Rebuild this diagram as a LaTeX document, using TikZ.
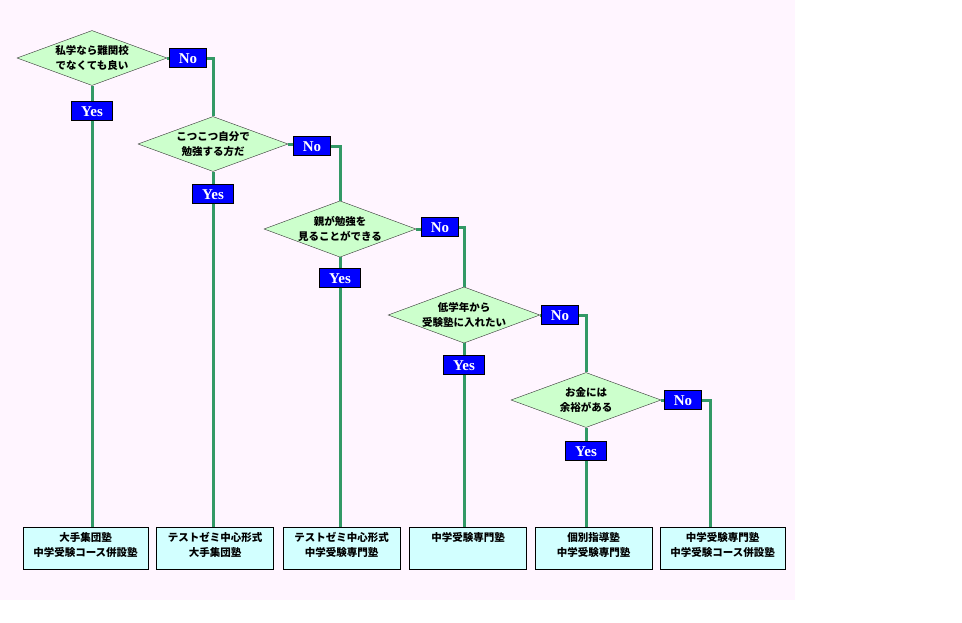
\documentclass[tikz,border=0pt]{standalone}
\usepackage{fontspec}
\newfontfamily\jpfont{Noto Sans CJK JP}
\newfontfamily\ynfont{Liberation Serif}
\usetikzlibrary{shapes.geometric}
\definecolor{bgpink}{RGB}{255,245,255}
\definecolor{qgreen}{RGB}{204,255,204}
\definecolor{scyan}{RGB}{210,255,255}
\definecolor{linegreen}{RGB}{51,153,102}
\definecolor{labelblue}{RGB}{0,0,255}
\tikzset{
  question/.style={shape=diamond, aspect=2.7, minimum width=150pt, minimum height=55pt, inner sep=0pt, draw=black!80, fill=qgreen, font={\jpfont\bfseries\fontsize{10.5}{15}\selectfont}, align=center},
  school/.style={shape=rectangle, draw=black, fill=scyan, font={\jpfont\bfseries\fontsize{10.5}{15}\selectfont}, align=center, minimum width=117pt, inner xsep=10pt, inner ysep=4pt, text height=25pt, text depth=9pt},
  oneline/.style={text height=10pt, text depth=24pt},
  answer/.style={shape=rectangle, draw=black, fill=labelblue, text=white, font={\ynfont\bfseries\fontsize{15}{15}\selectfont}, minimum height=19pt, inner xsep=9.5pt, inner ysep=0pt, text height=10pt, text depth=0pt},
  flow/.style={draw=linegreen, line width=3pt}
}

\begin{document}
\begin{tikzpicture}[x=1pt, y=-1pt]

\useasboundingbox (0,0) rectangle (962,622);
\fill [bgpink] (0,0) rectangle (795,600);

\node [question] (q1) at (92,58) {私学なら難関校\\でなくても良い};
\node [question] (q2) at (213,144) {こつこつ自分で\\勉強する方だ};
\node [question] (q3) at (340,229) {親が勉強を\\見ることができる};
\node [question] (q4) at (464,315) {低学年から\\受験塾に入れたい};
\node [question] (q5) at (586,400) {お金には\\余裕がある};

\node [answer] (y1) at (92,111) {Yes};
\node [answer] (y2) at (213,194) {Yes};
\node [answer] (y3) at (340,278) {Yes};
\node [answer] (y4) at (464,365) {Yes};
\node [answer] (y5) at (586,451) {Yes};

\node [answer] (n1) at (188,58) {No};
\node [answer] (n2) at (312,146) {No};
\node [answer] (n3) at (440,227) {No};
\node [answer] (n4) at (560,315) {No};
\node [answer] (n5) at (683,400) {No};

\node [school] (s1) at (85.5,548) {大手集団塾\\中学受験コース併設塾};
\node [school] (s2) at (215,548) {テストゼミ中心形式\\大手集団塾};
\node [school] (s3) at (341.5,548) {テストゼミ中心形式\\中学受験専門塾};
\node [school, oneline] (s4) at (468,548) {中学受験専門塾};
\node [school] (s5) at (593.5,548) {個別指導塾\\中学受験専門塾};
\node [school] (s6) at (722.5,548) {中学受験専門塾\\中学受験コース併設塾};

\draw [flow] (q1.south) -- (y1.north);
\draw [flow] (y1.south) -- (y1.south |- s1.north);
\draw [flow] (q2.south) -- (y2.north);
\draw [flow] (y2.south) -- (y2.south |- s2.north);
\draw [flow] (q3.south) -- (y3.north);
\draw [flow] (y3.south) -- (y3.south |- s3.north);
\draw [flow] (q4.south) -- (y4.north);
\draw [flow] (y4.south) -- (y4.south |- s4.north);
\draw [flow] (q5.south) -- (y5.north);
\draw [flow] (y5.south) -- (y5.south |- s5.north);

\draw [flow] (q1.east) -- (n1.west);
\draw [flow] (n1.east) -| (q2.north);
\draw [flow] (q2.east) -- (q2.east -| n2.west);
\draw [flow] (n2.east) -| (q3.north);
\draw [flow] (q3.east) -- (q3.east -| n3.west);
\draw [flow] (n3.east) -| (q4.north);
\draw [flow] (q4.east) -- (n4.west);
\draw [flow] (n4.east) -| (q5.north);
\draw [flow] (q5.east) -- (n5.west);
\draw [flow] (n5.east) -| ([xshift=50pt]s6.north west);

\end{tikzpicture}
\end{document}
